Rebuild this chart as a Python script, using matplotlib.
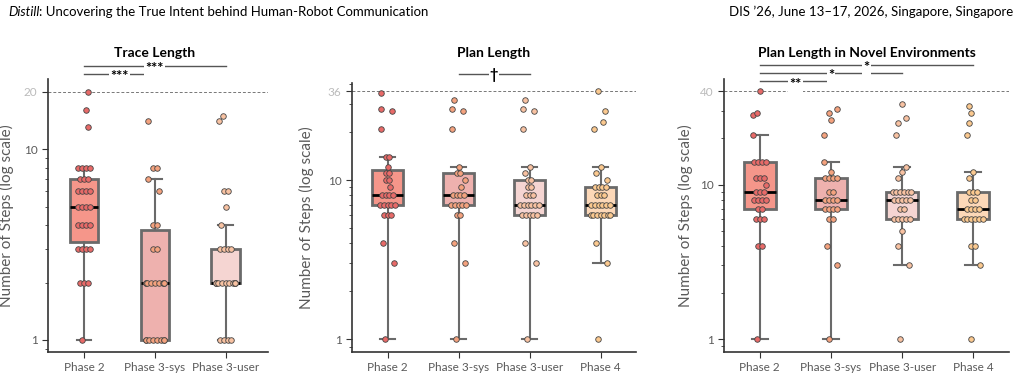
import matplotlib
matplotlib.use("Agg")
import matplotlib.pyplot as plt
import numpy as np
from matplotlib.ticker import NullFormatter
from matplotlib.transforms import blended_transform_factory

plt.rcParams["font.family"] = ["Lato", "DejaVu Sans"]

phases3 = ["Phase 2", "Phase 3-sys", "Phase 3-user"]
phases4 = ["Phase 2", "Phase 3-sys", "Phase 3-user", "Phase 4"]

# steps per participant
trace_p2 = [1] + [2] * 3 + [3] * 4 + [4] * 4 + [5] * 4 + [6] * 4 + [7] * 3 + [8] * 4 + [13, 16, 20]
trace_p3sys = [1] * 8 + [2] * 9 + [3] * 2 + [4] * 2 + [6, 7] + [8] * 2 + [14]
trace_p3user = [1] * 4 + [2] * 11 + [3] * 4 + [4, 5] + [6] * 2 + [14, 15]

plan_p2 = [1, 3, 4] + [6] * 3 + [7] * 5 + [8] * 4 + [9] + [10] * 2 + [11] * 2 + [12] + [14] * 2 + [21, 27, 28, 35]
plan_p3sys = [1, 3, 4] + [6] * 2 + [7] * 5 + [8] * 4 + [9, 10] + [11] * 2 + [12] + [21, 27, 28, 32]
plan_p3user = [1, 3, 4] + [6] * 5 + [7] * 6 + [8] * 3 + [9] * 2 + [10] * 2 + [11, 12] + [21, 27, 28, 32]
plan_p4 = [1, 3, 4] + [6] * 7 + [7] * 6 + [8] * 3 + [9] * 4 + [10, 11, 12] + [21, 23, 27, 36]

novel_p2 = [1] + [4] * 2 + [6] * 3 + [7] * 2 + [8] * 4 + [9] * 3 + [10] + [11] * 3 + [14] * 4 + [21, 28, 29, 40]
novel_p3sys = [1, 3, 4] + [6] * 2 + [7] * 4 + [8] * 4 + [9] * 2 + [11] * 4 + [12, 14] + [21, 26, 29, 31]
novel_p3user = [1, 3, 4, 5] + [6] * 5 + [7] * 2 + [8] * 5 + [9] * 6 + [11, 12, 13] + [21, 25, 27, 33]
novel_p4 = [1, 3, 4, 4] + [6] * 6 + [7] * 4 + [8] * 2 + [9] * 3 + [11, 12] + [21, 25, 29, 32]

# significance brackets: (from, to, label)
trace_sig = [(0, 2, "***"), (0, 1, "***")]
plan_sig = [(1, 2, "†")]
novel_sig = [(0, 3, "*"), (0, 2, "*"), (0, 1, "**")]

box_colors = ["#f5968a", "#eeb1ae", "#f5d5d2", "#fcd8b8"]
dot_colors = ["#e86a68", "#f4a27e", "#f8c2a2", "#fbc98f"]

W, H = 1021, 375
fig = plt.figure(figsize=(W / 100, H / 100), dpi=100)


def jitter(vals):
    vals = np.asarray(vals)
    off = np.zeros(len(vals))
    for v in np.unique(vals):
        idx = np.where(vals == v)[0]
        k = len(idx)
        if k == 1:
            off[idx] = ((v * 37) % 7 - 3) * 0.03
        else:
            off[idx] = np.clip((np.arange(k) - (k - 1) / 2) * 0.055, -0.13, 0.13)
    return off


def panel(rect, groups, labels, title, sigs, sig_y, title_y, width, xlim, ylim):
    ax = fig.add_axes(rect)
    ax.set_yscale("log")
    n = len(groups)
    bp = ax.boxplot(groups, positions=range(n), widths=width, patch_artist=True,
                    showfliers=False, whis=1.5, capwidths=width * 0.5,
                    medianprops=dict(color="black", lw=2),
                    boxprops=dict(edgecolor="#6a6a6a", lw=2),
                    whiskerprops=dict(color="#6a6a6a", lw=1.5),
                    capprops=dict(color="#6a6a6a", lw=1.5))
    for i, b in enumerate(bp["boxes"]):
        b.set_facecolor(box_colors[i])
    for i, g in enumerate(groups):
        ax.scatter(i + jitter(g), g, s=16, color=dot_colors[i],
                   edgecolor="#444444", linewidth=0.6, zorder=3)
    top = max(max(g) for g in groups)
    ax.axhline(top, color="#777777", lw=0.7, ls=(0, (3, 2)), zorder=1)
    ax.set_xlim(*xlim)
    ax.set_ylim(*ylim)
    ax.set_yticks([1, 10, top])
    ax.set_yticklabels(["1", "10", str(top)])
    ax.yaxis.set_minor_formatter(NullFormatter())
    ax.set_xticks(range(n))
    ax.set_xticklabels(labels)
    ax.tick_params(axis="both", which="major", labelsize=8.5, colors="#333333",
                   labelcolor="#5a5a5a", length=4)
    ax.tick_params(axis="y", which="minor", length=2.5, colors="#333333")
    ax.get_yticklabels()[2].set_color("#bbbbbb")
    for s in ["top", "right"]:
        ax.spines[s].set_visible(False)
    for s in ["left", "bottom"]:
        ax.spines[s].set_color("#333333")
        ax.spines[s].set_linewidth(1.2)
    ax.set_ylabel("Number of Steps (log scale)", fontsize=11, color="#5a5a5a")
    tr = blended_transform_factory(ax.transData, ax.transAxes)
    ax.text((n - 1) / 2, title_y, title, transform=tr, ha="center", va="center",
            fontsize=10, fontweight="bold")
    for (a, b, lab), yy in zip(sigs, sig_y):
        ax.plot([a, b], [yy, yy], transform=tr, color="#555555", lw=1, clip_on=False)
        ax.annotate(lab, xy=((a + b) / 2, yy), xycoords=tr,
                    xytext=(0, -5.2 if "*" in lab else -3.3), textcoords="offset points",
                    ha="center", va="baseline", fontsize=10.5, fontweight="bold",
                    annotation_clip=False,
                    bbox=dict(facecolor="white", edgecolor="none", pad=0.8))
    return ax


ax1 = panel([48 / W, 23 / H, 220 / W, 273 / H],
            [trace_p2, trace_p3sys, trace_p3user], phases3, "Trace Length",
            trace_sig, [1.049, 1.019], 1.095, 0.4, (-0.51, 2.6), (0.865, 23.3))
ax2 = panel([352 / W, 23 / H, 284 / W, 269 / H],
            [plan_p2, plan_p3sys, plan_p3user, plan_p4], phases4, "Plan Length",
            plan_sig, [1.032], 1.113, 0.45, (-0.5, 3.5), (0.832, 40.7))
ax3 = panel([724 / W, 23 / H, 285 / W, 273 / H],
            [novel_p2, novel_p3sys, novel_p3user, novel_p4], phases4,
            "Plan Length in Novel Environments",
            novel_sig, [1.051, 1.022, 0.991], 1.095, 0.45, (-0.5, 3.5), (0.828, 48.1))

ax1.yaxis.set_label_coords(-0.155, 0.5)
ax2.yaxis.set_label_coords(-0.135, 0.5)
ax3.yaxis.set_label_coords(-0.11, 0.5)

# page header
t1 = fig.text(8 / W, 1 - 12 / H, "Distill", fontsize=9.5, style="italic", va="center")
ax1.annotate(": Uncovering the True Intent behind Human-Robot Communication",
             xy=(1, 0.5), xycoords=t1, va="center", fontsize=9.5, annotation_clip=False)
fig.text(1013 / W, 1 - 12 / H, "DIS \u201926, June 13\u201317, 2026, Singapore, Singapore",
         fontsize=9.5, ha="right", va="center")

fig.savefig("out.png", dpi=100)
